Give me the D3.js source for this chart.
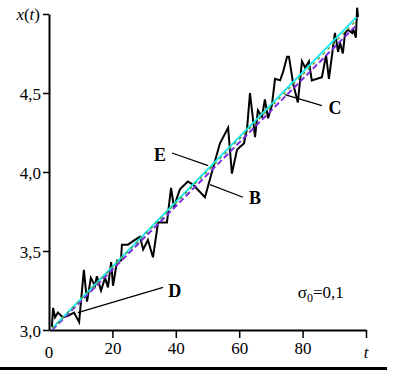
<!DOCTYPE html>
<html>
<head>
<meta charset="utf-8">
<script src="https://cdn.jsdelivr.net/npm/d3@7/dist/d3.min.js"></script>
<style>
  html, body { margin: 0; padding: 0; background: #fff; }
  svg { display: block; font-family: "Liberation Serif", "Times New Roman", serif; }
</style>
</head>
<body>
<div id="chart"></div>
<script>
// noisy trajectory x(t)
const tSample = [0.9, 1.3, 1.9, 2.8, 4.4, 6.0, 7.9, 9.5, 11.0, 12.0, 13.2, 14.5, 15.1, 16.4, 17.7, 18.6,
  19.6, 20.2, 21.5, 22.7, 23.0, 24.9, 27.1, 28.7, 29.7, 31.2, 32.8, 34.4, 36.0, 37.2, 38.5, 39.4,
  41.3, 43.8, 45.4, 49.2, 51.4, 53.9, 56.5, 57.7, 59.3, 60.3, 61.5, 62.5, 63.4, 65.0, 65.9, 67.2,
  68.1, 69.1, 70.3, 71.3, 72.9, 73.8, 75.1, 75.7, 77.0, 78.5, 79.8, 80.8, 82.0, 82.9, 86.1, 87.4,
  88.3, 90.2, 91.2, 91.8, 92.7, 93.4, 94.3, 95.6, 95.9, 96.8, 97.2, 97.5];
const xSample = [3.02, 3.14, 3.08, 3.11, 3.08, 3.09, 3.11, 3.05, 3.38, 3.18, 3.33, 3.28, 3.34, 3.25, 3.33, 3.27,
  3.43, 3.28, 3.44, 3.44, 3.54, 3.54, 3.57, 3.59, 3.51, 3.57, 3.46, 3.68, 3.68, 3.68, 3.90, 3.78,
  3.89, 3.94, 3.92, 3.84, 4.00, 4.18, 4.28, 3.99, 4.14, 4.16, 4.18, 4.28, 4.50, 4.22, 4.39, 4.35,
  4.46, 4.34, 4.42, 4.59, 4.58, 4.63, 4.73, 4.73, 4.56, 4.44, 4.70, 4.66, 4.70, 4.58, 4.60, 4.74,
  4.59, 4.88, 4.76, 4.82, 4.75, 4.88, 4.90, 4.88, 4.91, 4.85, 5.04, 4.98];

// estimated trends (start, end)
const trendT = [1, 97];
const trendCyan = [3.01, 4.98];
const trendGreen = [3.01, 4.96];
const trendPurple = [3.0, 4.93];

const yTicks = [3, 3.5, 4, 4.5, 5];
const xTicks = [20, 40, 60, 80, 100];

// annotation labels: [label, text t, text x, line t0, x0, t1, x1]
const notes = [
  ["E", 35.0, 4.11, 38.8, 4.12, 50.2, 4.04],
  ["B", 65.0, 3.84, 50.8, 3.92, 61.2, 3.84],
  ["C", 90.2, 4.41, 74.4, 4.49, 86.1, 4.42],
  ["D", 39.7, 3.25, 9.1, 3.11, 36.0, 3.27]
];

const W = 393, H = 371;
const svg = d3.select("#chart").append("svg").attr("width", W).attr("height", H);

const x = d3.scaleLinear().domain([0, 100]).range([49, 366]);
const y = d3.scaleLinear().domain([3, 5]).range([330, 14]);

const comma = d => d3.format(".1f")(d).replace(".", ",");

// y axis
const gy = svg.append("g").attr("transform", `translate(${x(0)},0)`)
  .call(d3.axisLeft(y).tickValues(yTicks).tickSize(6).tickSizeOuter(0)
    .tickFormat(d => d === 5 ? "" : comma(d)));
gy.select(".domain").attr("stroke-width", 2);
gy.selectAll(".tick line").attr("stroke-width", 1.5);
gy.selectAll(".tick text").attr("font-size", 17).attr("font-family", "Liberation Serif")
  .attr("fill", "#000").attr("x", -8).attr("dy", "0.36em");

// x axis
const gx = svg.append("g").attr("transform", `translate(0,${y(3)})`)
  .call(d3.axisBottom(x).tickValues(xTicks).tickSize(8).tickSizeOuter(0)
    .tickFormat(d => d === 100 ? "" : d));
gx.select(".domain").attr("stroke-width", 2);
gx.selectAll(".tick line").attr("stroke-width", 1.5);
gx.selectAll(".tick text").attr("font-size", 17).attr("font-family", "Liberation Serif")
  .attr("fill", "#000").attr("y", 12).attr("dy", "0.71em");

svg.append("text").attr("x", x(0)).attr("y", y(3) + 28).attr("text-anchor", "middle")
  .attr("font-size", 17).text("0");
svg.append("text").attr("x", x(100)).attr("y", y(3) + 28).attr("text-anchor", "middle")
  .attr("font-size", 17).attr("font-style", "italic").text("t");

// y label x(t)
const yl = svg.append("text").attr("x", x(0) - 9).attr("y", y(5) + 6).attr("text-anchor", "end")
  .attr("font-size", 17);
yl.append("tspan").attr("font-style", "italic").text("x");
yl.append("tspan").text("(");
yl.append("tspan").attr("font-style", "italic").text("t");
yl.append("tspan").text(")");

// noisy trajectory
const pts = tSample.map((t, i) => [t, xSample[i]]);
svg.append("path").datum(pts)
  .attr("fill", "none").attr("stroke", "#000").attr("stroke-width", 2).attr("stroke-linejoin", "miter")
  .attr("d", d3.line().x(d => x(d[0])).y(d => y(d[1])));

// trend lines
const trend = (vals, color, width, dash) => {
  svg.append("path").datum(trendT.map((t, i) => [t, vals[i]]))
    .attr("fill", "none").attr("stroke", color).attr("stroke-width", width)
    .attr("stroke-dasharray", dash)
    .attr("d", d3.line().x(d => x(d[0])).y(d => y(d[1])));
};
trend(trendPurple, "#7b2fe0", 2, "6,3");
trend(trendCyan, "#1ee8f0", 2, null);
trend(trendGreen, "#4a9a2a", 1.3, "3,4");

// annotations
notes.forEach(n => {
  svg.append("line").attr("x1", x(n[3])).attr("y1", y(n[4])).attr("x2", x(n[5])).attr("y2", y(n[6]))
    .attr("stroke", "#000").attr("stroke-width", 1.2);
  svg.append("text").attr("x", x(n[1])).attr("y", y(n[2])).attr("dy", "0.35em")
    .attr("text-anchor", "middle").attr("font-size", 18).attr("font-weight", "bold").text(n[0]);
});

// sigma label
const sl = svg.append("text").attr("x", x(78.5)).attr("y", y(3.2)).attr("font-size", 17);
sl.append("tspan").text("σ");
sl.append("tspan").attr("font-size", 12).attr("dy", 4).text("0");
sl.append("tspan").attr("dy", -4).text("=0,1");

// bottom rule
svg.append("line").attr("x1", 0).attr("x2", 387).attr("y1", 368.5).attr("y2", 368.5)
  .attr("stroke", "#000").attr("stroke-width", 3);
</script>
</body>
</html>
